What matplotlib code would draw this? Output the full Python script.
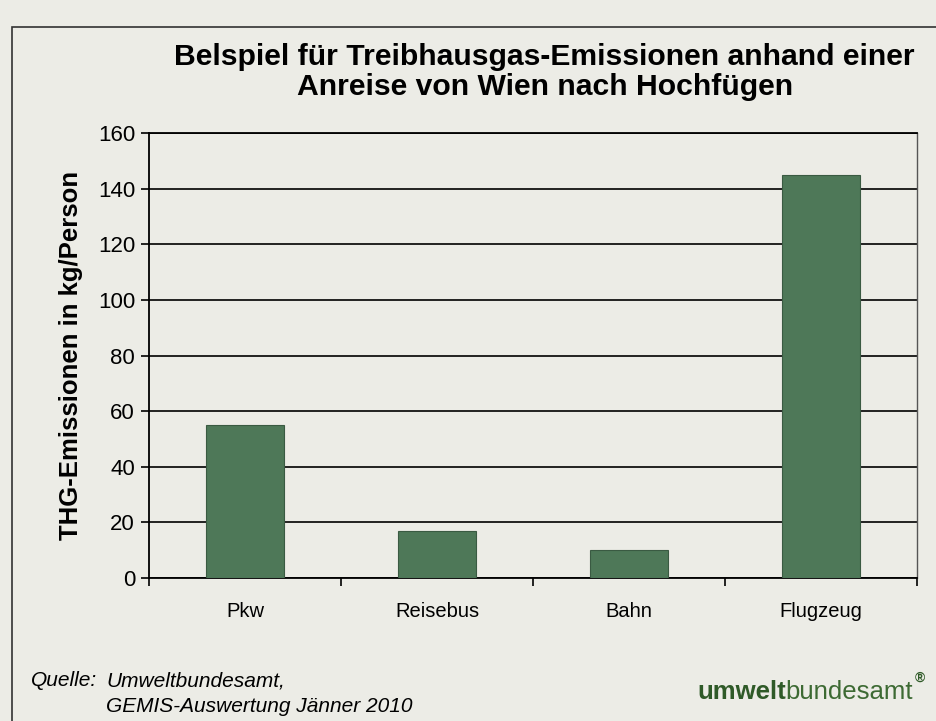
import matplotlib
matplotlib.use("Agg")
import matplotlib.pyplot as plt
from matplotlib.patches import Rectangle
import numpy as np

plt.rcParams['font.family'] = ['Liberation Sans', 'DejaVu Sans']

categories = ["Pkw", "Reisebus", "Bahn", "Flugzeug"]
emissions = [55, 17, 10, 145]
yticks = [0, 20, 40, 60, 80, 100, 120, 140, 160]

bg = "#ecece6"
bar_color = "#4e7858"

fig = plt.figure(figsize=(9.36, 7.21), dpi=100, facecolor=bg)

# outer frame of the chart box
fig.patches.append(Rectangle((12 / 936, -0.01), 1.0, 1 - 27 / 721 + 0.01,
                             transform=fig.transFigure, fill=False,
                             edgecolor="#333333", lw=1.2))

ax = fig.add_axes([149 / 936, (721 - 578) / 721, 768 / 936, 445 / 721])
ax.set_facecolor(bg)

x = np.arange(len(categories))
ax.bar(x, emissions, width=0.41, color=bar_color, edgecolor="#3a5a42",
       lw=0.8, zorder=3)

ax.set_xlim(-0.5, len(categories) - 0.5)
ax.set_ylim(0, 160)
ax.set_yticks(yticks)
ax.set_yticklabels([str(v) for v in yticks], fontsize=16)
ax.yaxis.grid(True, color="black", lw=1.2, zorder=1)
ax.set_axisbelow(True)

ax.set_xticks(x)
ax.set_xticklabels(categories, fontsize=14.5)
ax.tick_params(axis="x", length=0, pad=17)
ax.set_xticks(np.arange(-0.5, len(categories)), minor=True)
ax.tick_params(axis="x", which="minor", length=6, width=1.2, direction="out")
ax.tick_params(axis="y", length=6, width=1.2, direction="out", pad=4)

for side in ["left", "bottom", "top"]:
    ax.spines[side].set_color("black")
    ax.spines[side].set_linewidth(1.3)
ax.spines["right"].set_color("#555555")
ax.spines["right"].set_linewidth(1.0)

ax.set_ylabel("THG-Emissionen in kg/Person", fontsize=18.5, fontweight="bold",
              labelpad=11)

fig.text(0.582, 1 - 72 / 721, "Belspiel für Treibhausgas-Emissionen anhand einer\n"
         "Anreise von Wien nach Hochfügen", ha="center", va="center",
         fontsize=21.7, fontweight="bold", linespacing=1.12)

fig.text(31 / 936, 1 - 681 / 721, "Quelle:", fontsize=15,
         style="italic", va="center")
fig.text(106 / 936, 1 - 681 / 721, "Umweltbundesamt,", fontsize=15,
         style="italic", va="center")
fig.text(106 / 936, 1 - 706 / 721, "GEMIS-Auswertung Jänner 2010", fontsize=15,
         style="italic", va="center")

# logo: bold "umwelt" directly followed by regular "bundesamt"
t1 = fig.text(697 / 936, 1 - 692 / 721, "umwelt", fontsize=18.5,
              fontweight="bold", color="#2f5a28", va="center")
fig.canvas.draw()
bb = t1.get_window_extent()
t2 = fig.text(bb.x1 / 936, 1 - 692 / 721, "bundesamt", fontsize=18.5,
              color="#3d6a33", va="center")
fig.canvas.draw()
bb2 = t2.get_window_extent()
fig.text(bb2.x1 / 936 + 0.002, 1 - 678 / 721, "®", fontsize=10,
         fontweight="bold", color="#2f5a28", va="center")

fig.savefig("out.png", dpi=100, facecolor=bg)
